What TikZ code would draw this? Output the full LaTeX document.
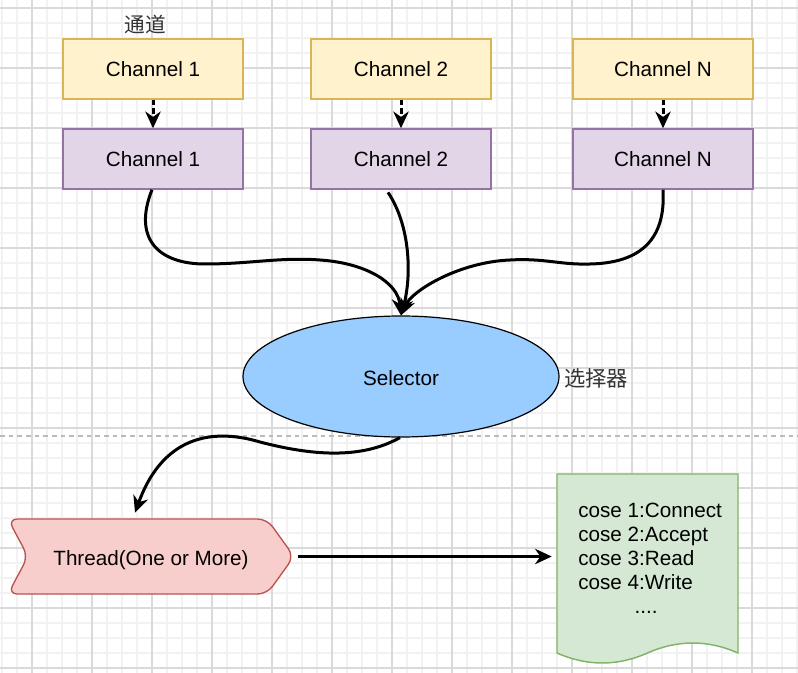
\documentclass[tikz,border=0pt]{standalone}
\usepackage{fontspec}
\setmainfont{Liberation Sans}
\newfontfamily\cjk{Noto Sans CJK SC}
\usetikzlibrary{shapes.geometric,arrows.meta}
\definecolor{ylwfill}{HTML}{FFF2CC}
\definecolor{ylwline}{HTML}{D6B656}
\definecolor{prpfill}{HTML}{E1D5E7}
\definecolor{prpline}{HTML}{9673A6}
\definecolor{selfill}{HTML}{99CCFF}
\definecolor{redfill}{HTML}{F8CECC}
\definecolor{redline}{HTML}{B85450}
\definecolor{grnfill}{HTML}{D5E8D4}
\definecolor{grnline}{HTML}{82B366}
\definecolor{minorgridc}{HTML}{F2F2F2}
\definecolor{majorgridc}{HTML}{DADADA}
\definecolor{sepc}{HTML}{BBBBBB}
\definecolor{labelc}{HTML}{333333}
\tikzset{
  txt/.style={font=\fontsize{15.5pt}{18pt}\selectfont, text=black},
  chbox/.style={txt, rectangle, minimum width=135pt, minimum height=45pt, line width=1.1pt, inner sep=0pt},
  ybox/.style={chbox, fill=ylwfill, draw=ylwline},
  pbox/.style={chbox, fill=prpfill, draw=prpline},
  minorgrid/.style={draw=minorgridc, line width=1.2pt},
  majorgrid/.style={draw=majorgridc, line width=0.8pt},
  conn/.style={draw=black, line width=2.25pt, -{Stealth[length=12.5pt,width=11.5pt,inset=4pt]}},
  dconn/.style={conn, dash pattern=on 4pt off 2.5pt},
  cjklabel/.style={font=\cjk\fontsize{15.5pt}{18pt}\selectfont, text=labelc, inner sep=0pt},
}
\begin{document}
\begin{tikzpicture}[x=0.75pt,y=-0.75pt]
\useasboundingbox (0,0) rectangle (798,673);
\fill[white] (0,0) rectangle (798,673);
% grid
\foreach \x in {2,17,...,797} \draw[minorgrid] (\x,0) -- (\x,673);
\foreach \y in {8,23,...,668} \draw[minorgrid] (0,\y) -- (798,\y);
\foreach \x in {32,92,...,752} \draw[majorgrid] (\x,0) -- (\x,673);
\foreach \y in {8,68,...,668} \draw[majorgrid] (0,\y) -- (798,\y);
% separator
\draw[sepc, line width=0.9pt, dash pattern=on 3.5pt off 3pt] (0,436) -- (798,436);

% channel boxes
\node[ybox] (y1) at (153,69) {Channel 1};
\node[ybox] (y2) at (401,69) {Channel 2};
\node[ybox] (y3) at (663,69) {Channel N};
\node[pbox] (p1) at (153,159) {Channel 1};
\node[pbox] (p2) at (401,159) {Channel 2};
\node[pbox] (p3) at (663,159) {Channel N};
\node[cjklabel] (lbltd) at (145,25) {通道};

% selector
\node[txt, ellipse, fill=selfill, draw=black, line width=0.9pt, minimum width=237pt, minimum height=90.75pt, inner sep=0pt] (sel) at (401,376.5) {\raisebox{-1.4pt}[\height][\depth]{Selector}};
\node[cjklabel, font=\cjk\fontsize{16pt}{18pt}\selectfont] (lblsel) at (596,378) {选择器};

% thread shape
\draw[fill=redfill, draw=redline, line width=1pt, rounded corners=7pt]
  (8,519) -- (267,519) -- (294,556.5) -- (267,594) -- (8,594) -- (28,556.5) -- cycle;
\node[txt, minimum width=214.5pt, minimum height=56.25pt, inner sep=0pt] (thread) at (151,556.5) {\raisebox{-2.4pt}[\height][\depth]{Thread(One or More)}};

% document shape
\node[minimum width=135.75pt, minimum height=134.25pt, inner sep=0pt] (doc) at (647.5,563.5) {};
\draw[fill=grnfill, draw=grnline, line width=1.1pt]
  (557,474) -- (738,474) -- (738,653)
  .. controls (707.83,639.67) and (677.67,639.67) .. (647.5,653)
  .. controls (617.33,666.33) and (587.17,666.33) .. (557,653) -- cycle;
\node[txt, anchor=west, inner sep=0pt, align=left] (doctext) at (578,561)
  {\begin{tabular}{@{}l@{}}cose 1:Connect\\cose 2:Accept\\cose 3:Read\\cose 4:Write\\\multicolumn{1}{@{}c@{}}{....\hspace*{6pt}}\end{tabular}};

% dashed arrows
\draw[dconn] (y1.south) -- (p1.north);
\draw[dconn] (y2.south) -- (p2.north);
\draw[dconn] (y3.south) -- (p3.north);

% curves to selector
\draw[conn] ([xshift=-0.75pt]p1.south) .. controls (132,240) and (160,264) .. (205,264)
  .. controls (250,264) and (280,257) .. (320,260)
  .. controls (365,263) and (398,282) .. (sel.north);
\draw[conn] ([xshift=-9.75pt,yshift=-2pt]p2.south) .. controls (410,225) and (412,275) .. (sel.north);
\draw[conn] (p3.south) .. controls (666,240) and (640,263) .. (590,264)
  .. controls (560,265) and (545,258) .. (510,260)
  .. controls (460,262) and (412,290) .. (sel.north);

% selector to thread
\draw[conn] ([xshift=-0.75pt]sel.south) .. controls (360,460) and (310,455) .. (260,442)
  .. controls (220,430) and (165,430) .. ([xshift=-12pt,yshift=4.5pt]thread.north);

% thread to document
\draw[conn, shorten <=3pt, shorten >=3.75pt] (thread.east) -- (thread.east -| doc.west);
\end{tikzpicture}
\end{document}
